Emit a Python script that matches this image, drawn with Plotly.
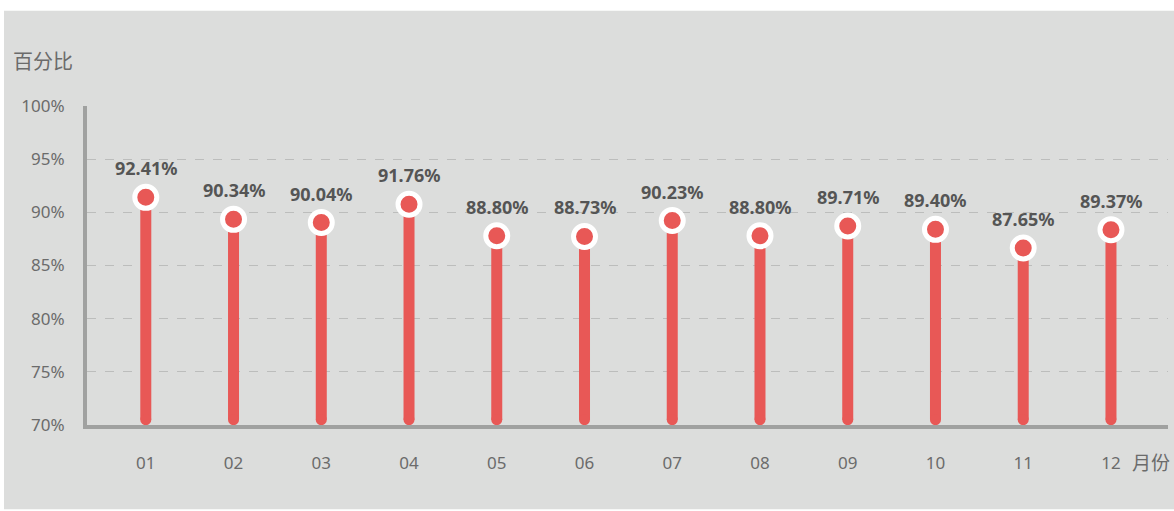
import plotly.graph_objects as go

# monthly percentages shown on the chart
months = ["01", "02", "03", "04", "05", "06", "07", "08", "09", "10", "11", "12"]
rates = [92.41, 90.34, 90.04, 91.76, 88.80, 88.73, 90.23, 88.80, 89.71, 89.40, 87.65, 89.37]
y_ticks = [70, 75, 80, 85, 90, 95, 100]

RED = "#e85856"
AXIS_GRAY = "#a0a1a0"
BG = "#dcdddc"
TEXT_GRAY = "#6b6b6b"

# the dot symbol sits a little below the true value (symbol offset in the original)
DOT_DROP = 1.0
STEM_BASE = 70.5

xs = list(range(1, len(months) + 1))
dots = [r - DOT_DROP for r in rates]

stem_x, stem_y = [], []
for x, d in zip(xs, dots):
    stem_x += [x, x, None]
    stem_y += [STEM_BASE, d, None]

fig = go.Figure()

# stems with rounded ends
fig.add_trace(go.Scatter(
    x=stem_x, y=stem_y,
    mode="lines+markers",
    line=dict(color=RED, width=11),
    marker=dict(color=RED, size=11, line=dict(width=0)),
    hoverinfo="skip",
    showlegend=False
))

# dots with white ring
fig.add_trace(go.Scatter(
    x=xs, y=dots,
    mode="markers",
    marker=dict(color=RED, size=22, line=dict(color="white", width=5)),
    customdata=rates,
    hovertemplate="%{customdata:.2f}%<extra></extra>",
    showlegend=False
))

# value labels above the dots
for x, d, r in zip(xs, dots, rates):
    fig.add_annotation(
        x=x, y=d, yshift=29,
        text="%.2f%%" % r,
        showarrow=False,
        font=dict(family="Noto Sans", size=18, color="#555555", weight="bold")
    )

# gray backdrop
fig.add_shape(
    type="rect", xref="paper", yref="paper",
    x0=(4 - 87) / 1081, x1=(1174 - 87) / 1081,
    y0=(425.5 - 510) / 320, y1=(425.5 - 10) / 320,
    fillcolor=BG, line=dict(width=0), layer="below"
)

fig.add_annotation(
    xref="paper", yref="paper",
    x=(11 - 87) / 1081, y=(425.5 - 60) / 320,
    xanchor="left", yanchor="middle",
    text="百分比", showarrow=False,
    font=dict(family="Noto Sans CJK SC", size=20, color=TEXT_GRAY)
)
fig.add_annotation(
    xref="paper", yref="paper",
    x=(1130 - 87) / 1081, y=(425.5 - 462) / 320,
    xanchor="left", yanchor="middle",
    text="月份", showarrow=False,
    font=dict(family="Noto Sans CJK SC", size=19, color=TEXT_GRAY)
)

fig.update_layout(
    width=1174, height=511,
    margin=dict(l=87, r=6, t=105.5, b=85.5),
    paper_bgcolor="white",
    plot_bgcolor="rgba(0,0,0,0)",
    font=dict(family="Noto Sans", size=17, color=TEXT_GRAY),
    showlegend=False
)

fig.update_xaxes(
    range=[0.33, 12.65],
    tickvals=xs, ticktext=months,
    showgrid=False, zeroline=False,
    showline=True, linecolor=AXIS_GRAY, linewidth=4,
    ticks="", ticklabelstandoff=20,
    tickfont=dict(size=17, color=TEXT_GRAY)
)
fig.update_yaxes(
    range=[70, 100],
    tickvals=y_ticks, ticktext=["%d%%" % t for t in y_ticks],
    showgrid=True, gridcolor="#bcbdbc", gridwidth=1, griddash="dash",
    zeroline=False,
    showline=True, linecolor=AXIS_GRAY, linewidth=4,
    ticks="", ticklabelstandoff=15,
    tickfont=dict(size=17, color=TEXT_GRAY)
)

# drop the default page margin so the figure sits at the window's corner
fig.write_html(
    "out.html",
    config={"displayModeBar": False},
    post_script="document.body.style.margin='0';"
)
